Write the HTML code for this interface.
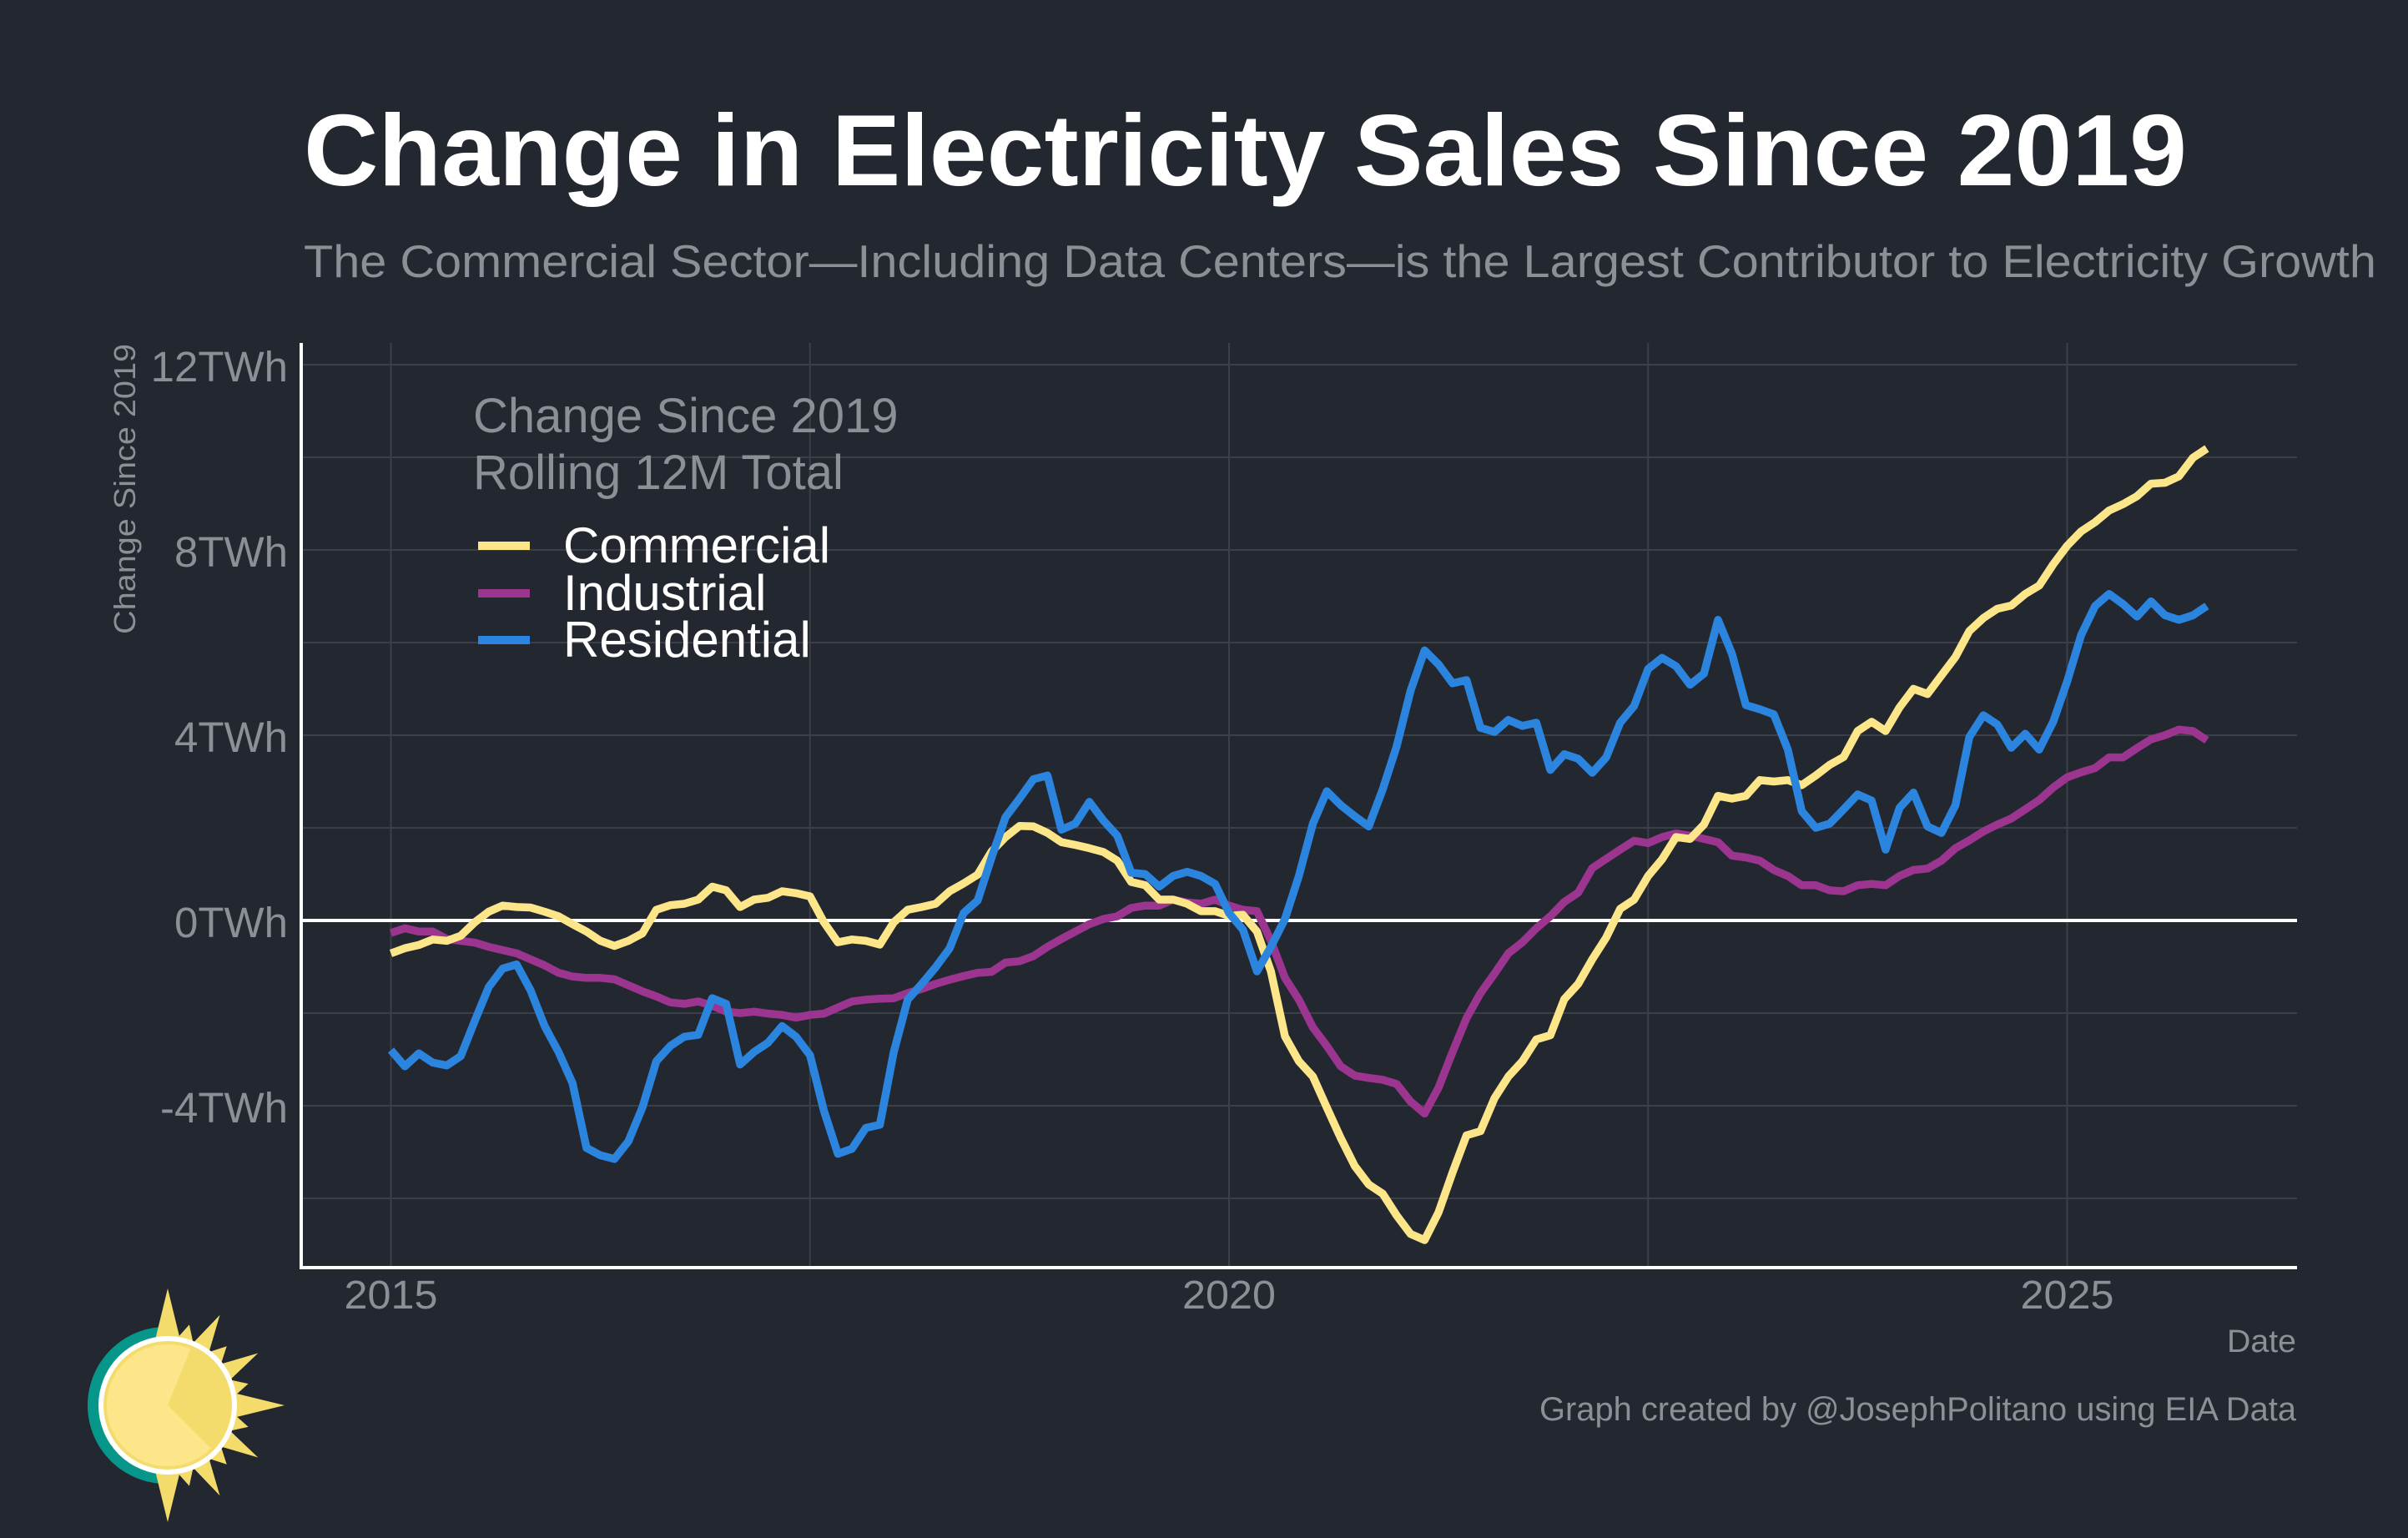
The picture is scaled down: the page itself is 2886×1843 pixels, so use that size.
<!DOCTYPE html>
<html><head><meta charset="utf-8"><style>
html,body{margin:0;padding:0;background:#23272f;}
svg{display:block;font-family:"Liberation Sans",sans-serif;}
</style></head><body>
<svg id="chart" width="2886" height="1843" viewBox="0 0 2886 1843" xmlns="http://www.w3.org/2000/svg">
<rect width="2886" height="1843" fill="#23272f"/>
<text x="364" y="222" font-size="122" font-weight="bold" fill="#ffffff" textLength="2257" lengthAdjust="spacingAndGlyphs">Change in Electricity Sales Since 2019</text>
<text x="364" y="332" font-size="55" fill="#8c8f96" textLength="2484" lengthAdjust="spacingAndGlyphs">The Commercial Sector—Including Data Centers—is the Largest Contributor to Electricity Growth</text>
<text transform="translate(162,586) rotate(-90)" text-anchor="middle" font-size="36" fill="#8c8f96" textLength="348" lengthAdjust="spacingAndGlyphs">Change Since 2019</text>
<g id="grid"></g>
<g id="yticks"></g>
<g id="xticks"></g>
<g id="series"></g>
<line x1="361" y1="411" x2="361" y2="1519" stroke="#ffffff" stroke-width="4"/>
<line x1="359" y1="1519" x2="2753" y2="1519" stroke="#ffffff" stroke-width="4"/>
<text x="2752" y="1620" text-anchor="end" font-size="38" fill="#8c8f96" textLength="83" lengthAdjust="spacingAndGlyphs">Date</text>
<text x="2752" y="1702" text-anchor="end" font-size="40" fill="#8c8f96" textLength="907" lengthAdjust="spacingAndGlyphs">Graph created by @JosephPolitano using EIA Data</text>
<g>
<text font-size="58" fill="#8c8f96"><tspan x="567" y="518">Change Since 2019</tspan><tspan x="567" y="586">Rolling 12M Total</tspan></text>
<g><line x1="573" y1="654" x2="635" y2="654" stroke="#fde68a" stroke-width="10"/><text x="675" y="674" font-size="60" fill="#ffffff">Commercial</text></g>
<g><line x1="573" y1="711" x2="635" y2="711" stroke="#9b358f" stroke-width="10"/><text x="675" y="731" font-size="60" fill="#ffffff">Industrial</text></g>
<g><line x1="573" y1="767" x2="635" y2="767" stroke="#2b84de" stroke-width="10"/><text x="675" y="787" font-size="60" fill="#ffffff">Residential</text></g>
</g>
<g id="logo">
<path d="M199,1590 A94,94 0 0 0 199,1778 Z" fill="#06978a"/>
<g id="rays" fill="#f3dc6b"></g>
<circle cx="201" cy="1684" r="83" fill="#ffffff"/>
<circle cx="201" cy="1684" r="77" fill="#f3dc6b"/>
<circle cx="201" cy="1684" r="73" fill="#fde68a"/>
<path d="M201,1684 L229,1615 A74,74 0 0 1 253,1736 Z" fill="#f3dc6b"/>
</g>
</svg>
<script>
const startYear = 2015;
const commercial = [-0.71,-0.6,-0.53,-0.41,-0.44,-0.33,-0.04,0.19,0.32,0.29,0.28,0.19,0.09,-0.08,-0.24,-0.44,-0.55,-0.44,-0.28,0.23,0.33,0.36,0.45,0.73,0.65,0.29,0.45,0.49,0.63,0.59,0.52,-0.04,-0.47,-0.41,-0.44,-0.52,-0.04,0.23,0.29,0.36,0.63,0.8,0.99,1.49,1.8,2.04,2.03,1.89,1.69,1.63,1.56,1.48,1.29,0.83,0.76,0.45,0.45,0.36,0.2,0.2,0.1,0.12,-0.24,-1.1,-2.5,-3.04,-3.37,-4.04,-4.7,-5.3,-5.7,-5.9,-6.37,-6.77,-6.9,-6.3,-5.44,-4.64,-4.55,-3.84,-3.37,-3.04,-2.57,-2.48,-1.7,-1.37,-0.84,-0.37,0.25,0.45,0.96,1.32,1.8,1.76,2.07,2.69,2.63,2.69,3.03,3.0,3.03,2.92,3.13,3.36,3.53,4.09,4.29,4.09,4.6,5.0,4.89,5.29,5.69,6.25,6.53,6.73,6.8,7.05,7.23,7.69,8.09,8.4,8.6,8.85,8.99,9.16,9.43,9.45,9.59,9.99,10.19];
const industrial = [-0.27,-0.17,-0.24,-0.24,-0.4,-0.44,-0.48,-0.57,-0.64,-0.71,-0.84,-0.97,-1.13,-1.21,-1.24,-1.24,-1.27,-1.4,-1.53,-1.64,-1.77,-1.8,-1.75,-1.84,-1.97,-2.0,-1.97,-2.01,-2.04,-2.1,-2.04,-2.01,-1.88,-1.75,-1.71,-1.69,-1.68,-1.57,-1.48,-1.37,-1.28,-1.2,-1.13,-1.11,-0.91,-0.88,-0.77,-0.57,-0.4,-0.24,-0.08,0.03,0.09,0.27,0.32,0.32,0.45,0.39,0.36,0.45,0.32,0.23,0.2,-0.44,-1.24,-1.71,-2.31,-2.71,-3.15,-3.35,-3.4,-3.44,-3.53,-3.91,-4.17,-3.61,-2.84,-2.11,-1.57,-1.15,-0.71,-0.47,-0.17,0.09,0.4,0.6,1.13,1.33,1.53,1.72,1.67,1.8,1.88,1.83,1.76,1.69,1.4,1.36,1.29,1.09,0.96,0.76,0.76,0.65,0.63,0.76,0.79,0.76,0.96,1.09,1.12,1.29,1.56,1.73,1.92,2.07,2.2,2.4,2.6,2.87,3.09,3.2,3.29,3.52,3.52,3.72,3.91,4.0,4.12,4.09,3.89];
const residential = [-2.8,-3.15,-2.87,-3.07,-3.13,-2.93,-2.17,-1.44,-1.04,-0.95,-1.51,-2.28,-2.84,-3.51,-4.91,-5.07,-5.15,-4.77,-4.04,-3.04,-2.71,-2.51,-2.47,-1.68,-1.8,-3.11,-2.84,-2.64,-2.28,-2.51,-2.91,-4.11,-5.04,-4.93,-4.48,-4.41,-2.84,-1.71,-1.37,-1.01,-0.6,0.16,0.43,1.36,2.23,2.63,3.05,3.13,1.96,2.09,2.56,2.16,1.83,1.03,1.0,0.73,0.96,1.05,0.96,0.79,0.16,-0.2,-1.1,-0.57,0.03,0.96,2.09,2.79,2.49,2.25,2.03,2.83,3.76,4.96,5.83,5.53,5.12,5.19,4.16,4.07,4.33,4.2,4.27,3.25,3.59,3.49,3.19,3.52,4.27,4.63,5.43,5.67,5.49,5.09,5.33,6.49,5.76,4.65,4.56,4.45,3.69,2.36,2.0,2.09,2.4,2.72,2.59,1.53,2.43,2.76,2.03,1.89,2.49,3.96,4.43,4.23,3.73,4.03,3.69,4.29,5.16,6.16,6.79,7.05,6.83,6.56,6.89,6.59,6.49,6.59,6.79];
const yTickValues = [12, 8, 4, 0, -4];
const yTickLabels = ["12TWh", "8TWh", "4TWh", "0TWh", "-4TWh"];
const yGridValues = [-6, -4, -2, 0, 2, 4, 6, 8, 10, 12];
const xTickYears = [2015, 2020, 2025];
const xMinorYears = [2017.5, 2022.5];

const NS = "http://www.w3.org/2000/svg";
const X0 = 468.5, PX_PER_YEAR = 200.9;
const Y0 = 1103, PX_PER_TWH = 55.5;
function xScale(year) { return X0 + (year - startYear) * PX_PER_YEAR; }
function xMonth(m) { return xScale(startYear + m / 12); }
function yScale(v) { return Y0 - v * PX_PER_TWH; }
function mk(tag, attrs) { const e = document.createElementNS(NS, tag); for (const k in attrs) e.setAttribute(k, attrs[k]); return e; }

const grid = document.getElementById('grid');
yGridValues.forEach(v => {
  const l = mk('line', {x1: 363, x2: 2753, y1: yScale(v), y2: yScale(v), stroke: '#3b3f48', 'stroke-width': 2});
  
  
  grid.appendChild(l);
});
xTickYears.concat(xMinorYears).forEach(yr => {
  const l = mk('line', {x1: xScale(yr), x2: xScale(yr), y1: 411, y2: 1517, stroke: '#3b3f48', 'stroke-width': 2});
  
  
  grid.appendChild(l);
});
const zl = mk('line', {x1: 363, x2: 2753, y1: yScale(0), y2: yScale(0), stroke: '#ffffff', 'stroke-width': 4});


grid.appendChild(zl);

const yt = document.getElementById('yticks');
yTickValues.forEach((v, i) => {
  const t = mk('text', {x: 345, y: yScale(v) + 20, 'text-anchor': 'end', 'font-size': 51, fill: '#8c8f96'});
  
  
  t.textContent = yTickLabels[i];
  yt.appendChild(t);
});
const xt = document.getElementById('xticks');
xTickYears.forEach(yr => {
  const t = mk('text', {x: xScale(yr), y: 1568, 'text-anchor': 'middle', 'font-size': 48, fill: '#8c8f96', textLength: 112, lengthAdjust: 'spacingAndGlyphs'});
  
  
  t.textContent = String(yr);
  xt.appendChild(t);
});

const series = document.getElementById('series');
function drawLine(values, color, name) {
  const pts = values.map((v, i) => xMonth(i).toFixed(1) + ',' + yScale(v).toFixed(1)).join(' ');
  const p = mk('polyline', {points: pts, fill: 'none', stroke: color, 'stroke-width': 9.5, 'stroke-linejoin': 'round'});
  
  
  series.appendChild(p);
}
drawLine(industrial, '#9b358f', 'industrial-line');
drawLine(commercial, '#fde68a', 'commercial-line');
drawLine(residential, '#2b84de', 'residential-line');

const rays = document.getElementById('rays');
const cx = 201, cy = 1684;
for (let k = 0; k <= 12; k++) {
  const a = (-90 + k * 15) * Math.PI / 180;
  const len = (k % 6 === 0) ? 140 : (k % 2 === 0 ? 125 : 100);
  const w = (k % 6 === 0) ? 0.2 : 0.15;
  const r0 = 78;
  const tip = [cx + len * Math.cos(a), cy + len * Math.sin(a)];
  const b1 = [cx + r0 * Math.cos(a - w), cy + r0 * Math.sin(a - w)];
  const b2 = [cx + r0 * Math.cos(a + w), cy + r0 * Math.sin(a + w)];
  const r = mk('polygon', {points: b1.join(',') + ' ' + tip.join(',') + ' ' + b2.join(',')});
  
  
  rays.appendChild(r);
}
</script>
</body></html>
